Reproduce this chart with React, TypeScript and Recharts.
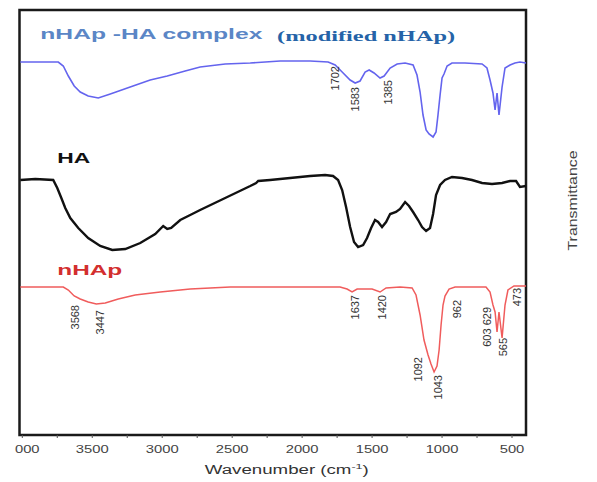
import { LineChart, Line, XAxis, YAxis, ReferenceArea, ReferenceDot } from "recharts";

// FTIR spectra, stacked; transmittance in arbitrary (offset) units
const complexSpectrum: [number, number][] = [
  [4014, 373], [3871, 373], [3743, 373], [3707, 369], [3671, 359], [3629, 349],
  [3586, 343], [3529, 339], [3457, 337], [3371, 341], [3229, 348], [3086, 355],
  [2964, 359], [2836, 364], [2729, 368], [2550, 371], [2371, 372], [2157, 374],
  [1943, 374], [1814, 373], [1764, 370], [1714, 363], [1657, 355], [1621, 352],
  [1586, 354], [1550, 363], [1521, 365], [1486, 362], [1443, 357], [1414, 359],
  [1371, 367], [1321, 371], [1264, 372], [1207, 370], [1179, 360], [1157, 343],
  [1136, 320], [1114, 305], [1093, 301], [1064, 298], [1043, 303], [1029, 320],
  [1014, 340], [1000, 357], [986, 361], [964, 369], [929, 372], [836, 372],
  [714, 371], [679, 367], [657, 355], [636, 342], [621, 325], [607, 342],
  [593, 320], [571, 348], [550, 367], [514, 370], [479, 372], [443, 373], [400, 372],
];

const haSpectrum: [number, number][] = [
  [4014, 255], [3907, 256], [3779, 255], [3750, 247], [3721, 237], [3693, 227],
  [3657, 217], [3600, 207], [3529, 197], [3443, 189], [3357, 185], [3264, 186],
  [3157, 192], [3050, 201], [2993, 209], [2964, 206], [2936, 207], [2871, 215],
  [2800, 220], [2729, 225], [2550, 237], [2371, 249], [2329, 252], [2314, 254],
  [2229, 255], [2086, 257], [1943, 259], [1836, 260], [1779, 259], [1743, 255],
  [1714, 245], [1686, 228], [1657, 208], [1629, 193], [1600, 188], [1564, 190],
  [1536, 197], [1507, 207], [1479, 215], [1457, 213], [1429, 208], [1400, 213],
  [1371, 221], [1329, 223], [1300, 226], [1264, 233], [1236, 229], [1207, 223],
  [1171, 215], [1143, 208], [1114, 204], [1086, 207], [1064, 221], [1043, 240],
  [1014, 250], [979, 255], [929, 258], [857, 257], [786, 255], [714, 252],
  [643, 251], [571, 252], [514, 254], [471, 254], [443, 248], [400, 249],
];

const nhapSpectrum: [number, number][] = [
  [4014, 148], [3871, 148], [3707, 148], [3671, 145], [3629, 139], [3586, 136],
  [3529, 133], [3471, 131], [3407, 132], [3314, 136], [3193, 140], [3014, 143],
  [2800, 146], [2514, 148], [2157, 148], [1729, 148], [1679, 146], [1643, 143],
  [1607, 146], [1500, 146], [1443, 143], [1400, 147], [1300, 148], [1214, 147],
  [1186, 140], [1157, 120], [1129, 95], [1100, 80], [1079, 71], [1057, 63],
  [1036, 69], [1021, 85], [1007, 110], [993, 130], [979, 139], [950, 146],
  [907, 148], [800, 148], [686, 148], [657, 143], [636, 130], [621, 123],
  [607, 103], [593, 123], [571, 97], [550, 130], [529, 145], [486, 149], [400, 149],
];

// peak labels: [label x (cm-1), label top (a.u.), text]
const complexPeaks: [number, number, string][] = [
  [1764, 369, "1702"], [1621, 348, "1583"], [1386, 355, "1385"],
];
const nhapPeaks: [number, number, string][] = [
  [3621, 130, "3568"], [3443, 125, "3447"], [1621, 140, "1637"], [1429, 140, "1420"],
  [1171, 78, "1092"], [1029, 60, "1043"], [893, 135, "962"], [679, 128, "603 629"],
  [564, 97, "565"], [464, 147, "473"],
];

const xTicks = [4000, 3750, 3500, 3250, 3000, 2750, 2500, 2250, 2000, 1750, 1500, 1250, 1000, 750, 500];

const SANS = "'Liberation Sans', Arial, sans-serif";
const SERIF = "'Liberation Serif', 'Times New Roman', serif";

const pts = (s: [number, number][]) => s.map(([wn, t]) => ({ wn, t }));

function WnTick({ x, y, payload }: any) {
  const v = payload.value;
  if (v % 500 !== 0) return <g />;
  const s = v === 4000 ? "000" : String(v);
  return (
    <text
      x={v === 4000 ? x + 5 : x}
      y={y + 13}
      textAnchor="middle"
      fontSize={10}
      fontFamily={SANS}
      fill="#444"
      textLength={s.length * 8.2}
      lengthAdjust="spacingAndGlyphs"
    >
      {s}
    </text>
  );
}

function XLabel({ viewBox }: any) {
  const { x, y, width } = viewBox;
  return (
    <text
      x={x + width / 2 + 14}
      y={y + 39}
      textAnchor="middle"
      fontSize={12}
      fontFamily={SANS}
      fill="#333"
      textLength={164}
      lengthAdjust="spacingAndGlyphs"
    >
      Wavenumber (cm<tspan dy={-5} fontSize={8}>-1</tspan>
      <tspan dy={5}>)</tspan>
    </text>
  );
}

function YLabel({ viewBox }: any) {
  const { x, y, height } = viewBox;
  const cx = x + 51;
  const cy = y + height / 2 - 22;
  return (
    <text
      transform={`translate(${cx},${cy}) rotate(-90)`}
      textAnchor="middle"
      fontSize={13}
      fontFamily={SANS}
      fill="#444"
      textLength={100}
      lengthAdjust="spacingAndGlyphs"
    >
      Transmittance
    </text>
  );
}

const peakDot = (wn: number, pos: number, text: string) => (
  <ReferenceDot
    key={text + wn}
    x={wn}
    y={pos}
    r={0}
    ifOverflow="visible"
    shape={(p: any) => (
      <text
        transform={`translate(${p.cx + 4},${p.cy}) rotate(-90)`}
        textAnchor="end"
        fontSize={11}
        fontFamily={SANS}
        fill="#333"
      >
        {text}
      </text>
    )}
  />
);

const title = (wn: number, pos: number, text: string, color: string, len: number, font = SANS, size = 14) => (
  <ReferenceDot
    key={text}
    x={wn}
    y={pos}
    r={0}
    ifOverflow="visible"
    shape={(p: any) => (
      <text
        x={p.cx}
        y={p.cy}
        fontSize={size}
        fontWeight="bold"
        fontFamily={font}
        fill={color}
        textLength={len}
        lengthAdjust="spacingAndGlyphs"
      >
        {text}
      </text>
    )}
  />
);

export default function App() {
  return (
    <div style={{ position: "absolute", left: 0, top: 0, background: "#fff" }}>
      <LineChart width={597} height={482} margin={{ top: 10, right: 0, bottom: 0, left: 19.5 }}>
        <XAxis
          type="number"
          dataKey="wn"
          domain={[400, 4020]}
          reversed
          allowDataOverflow
          ticks={xTicks}
          interval={0}
          tickSize={3}
          tickLine={{ stroke: "#555" }}
          axisLine={false}
          height={47}
          tick={<WnTick />}
          label={<XLabel />}
        />
        <YAxis
          type="number"
          orientation="right"
          domain={[0, 425]}
          width={71}
          tick={false}
          axisLine={false}
          tickLine={false}
          label={<YLabel />}
        />
        <ReferenceArea
          x1={4020}
          x2={400}
          y1={0}
          y2={425}
          fill="none"
          stroke="#1a1a1a"
          strokeWidth={2.5}
          ifOverflow="visible"
        />
        <Line
          data={pts(complexSpectrum)}
          dataKey="t"
          type="linear"
          dot={false}
          stroke="#6464ee"
          strokeWidth={1.6}
          isAnimationActive={false}
        />
        <Line
          data={pts(haSpectrum)}
          dataKey="t"
          type="linear"
          dot={false}
          stroke="#111"
          strokeWidth={2.4}
          isAnimationActive={false}
        />
        <Line
          data={pts(nhapSpectrum)}
          dataKey="t"
          type="linear"
          dot={false}
          stroke="#f05c5c"
          strokeWidth={1.5}
          isAnimationActive={false}
        />
        {complexPeaks.map(([wn, pos, t]) => peakDot(wn, pos, t))}
        {nhapPeaks.map(([wn, pos, t]) => peakDot(wn, pos, t))}
        {title(3871, 396, "nHAp -HA complex", "#5b86c6", 222)}
        {title(2179, 394, "(modified nHAp)", "#2563a8", 178, SERIF, 15)}
        {title(3750, 272, "HA", "#111", 33)}
        {title(3750, 160, "nHAp", "#d32f2f", 65)}
      </LineChart>
    </div>
  );
}
